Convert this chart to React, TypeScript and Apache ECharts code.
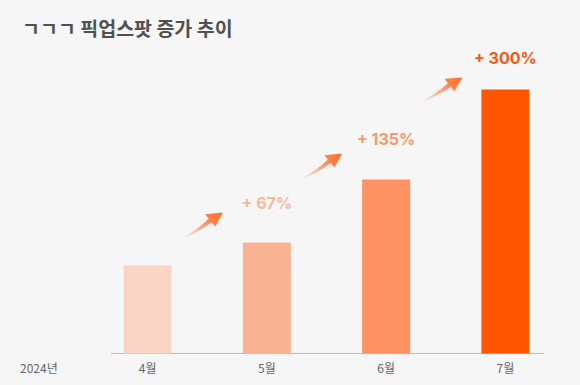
import React, { useEffect, useRef } from "react";
import * as echarts from "echarts";

const title = "ㄱㄱㄱ 픽업스팟 증가 추이";
const yearLabel = "2024년";
const categories = ["4월", "5월", "6월", "7월"];
const values = [88, 111, 174, 264];
const growthLabels = ["", "+ 67%", "+ 135%", "+ 300%"];

const barColors = ["#FAD5C5", "#F9B393", "#FE9263", "#FF5500"];
const labelColors = ["#F7B99A", "#F7B99A", "#F5996B", "#EF5B16"];
const labelDistances = [0, 30, 31, 22];
const arrowDx = [-44, -44, -43];
const arrowDy = [-30, -26, -12];
const arrowAngles = [32, 31.5, 30];

function arrowPoints(tx: number, ty: number, angleDeg: number) {
  const a = (angleDeg * Math.PI) / 180;
  const ux = Math.cos(a), uy = -Math.sin(a);
  const nx = Math.sin(a), ny = Math.cos(a);
  const headLen = 15, headHalf = 8, bodyLen = 50;
  const B = [tx - headLen * ux, ty - headLen * uy];
  const P0 = [tx - bodyLen * ux, ty - bodyLen * uy];
  const C = [(P0[0] + B[0]) / 2 + 2.5 * nx, (P0[1] + B[1]) / 2 + 2.5 * ny];
  const N = 14;
  const left: number[][] = [];
  const right: number[][] = [];
  let mEnd = [nx, ny];
  for (let i = 0; i <= N; i++) {
    const t = i / N;
    const qx = (1 - t) * (1 - t) * P0[0] + 2 * t * (1 - t) * C[0] + t * t * B[0];
    const qy = (1 - t) * (1 - t) * P0[1] + 2 * t * (1 - t) * C[1] + t * t * B[1];
    let dx = 2 * (1 - t) * (C[0] - P0[0]) + 2 * t * (B[0] - C[0]);
    let dy = 2 * (1 - t) * (C[1] - P0[1]) + 2 * t * (B[1] - C[1]);
    const l = Math.hypot(dx, dy) || 1;
    dx /= l; dy /= l;
    const mx = -dy, my = dx;
    const w = 0.4 + 1.9 * t;
    left.push([qx + w * mx, qy + w * my]);
    right.push([qx - w * mx, qy - w * my]);
    if (i === N) mEnd = [mx, my];
  }
  const pts = [
    ...left,
    [B[0] + headHalf * mEnd[0], B[1] + headHalf * mEnd[1]],
    [tx, ty],
    [B[0] - headHalf * mEnd[0], B[1] - headHalf * mEnd[1]],
    ...right.reverse(),
  ];
  return { pts, P0, T: [tx, ty] };
}

export default function App() {
  const ref = useRef<HTMLDivElement>(null);
  useEffect(() => {
    document.body.style.margin = "0";
    const chart = echarts.init(ref.current!, null, { renderer: "svg" });
    chart.setOption({
      animation: false,
      backgroundColor: "#F6F6F6",
      grid: { left: 88, right: 15, top: 53.5, bottom: 31.5 },
      xAxis: {
        type: "category",
        data: categories,
        axisLine: { show: false },
        axisTick: { show: false },
        axisLabel: {
          color: "#666666",
          fontSize: 12,
          margin: 8,
          fontFamily: "Noto Sans CJK KR",
        },
      },
      yAxis: {
        type: "value",
        min: 0,
        max: 300,
        show: false,
        splitLine: { show: false },
      },
      series: [
        {
          type: "bar",
          barWidth: 48,
          data: values.map((v, i) => ({
            value: v,
            itemStyle: { color: barColors[i] },
            label: {
              show: growthLabels[i] !== "",
              position: "top",
              distance: labelDistances[i],
              formatter: growthLabels[i],
              color: labelColors[i],
              fontSize: 16,
              fontWeight: 700,
              lineHeight: 20,
              fontFamily: "Inter, 'Noto Sans', sans-serif",
            },
          })),
        },
      ],
    });

    const graphics: any[] = [
      {
        type: "text",
        style: {
          text: title,
          x: 22,
          y: 27.5,
          verticalAlign: "middle",
          fill: "#505050",
          font: "bold 19.5px 'Noto Sans CJK KR'",
        },
      },
      {
        type: "text",
        style: {
          text: yearLabel,
          x: 20,
          y: 367,
          verticalAlign: "middle",
          fill: "#666666",
          font: "12px 'Noto Sans CJK KR'",
        },
      },
      {
        type: "line",
        shape: { x1: 111, y1: 353.5, x2: 544, y2: 353.5 },
        style: { stroke: "#BDBDBD", lineWidth: 1 },
      },
    ];

    for (let i = 0; i < 3; i++) {
      const p = chart.convertToPixel({ seriesIndex: 0 }, [i + 1, values[i + 1]]) as number[];
      const tx = p[0] + arrowDx[i];
      const ty = p[1] + arrowDy[i];
      const { pts, P0, T } = arrowPoints(tx, ty, arrowAngles[i]);
      graphics.push({
        type: "polygon",
        shape: { points: pts },
        style: {
          fill: {
            type: "linear",
            x: P0[0],
            y: P0[1],
            x2: T[0],
            y2: T[1],
            global: true,
            colorStops: [
              { offset: 0, color: "rgba(250,170,130,0)" },
              { offset: 0.5, color: "rgba(250,140,95,0.75)" },
              { offset: 0.72, color: "#FF8148" },
              { offset: 1, color: "#FF6A28" },
            ],
          },
        },
      });
    }

    chart.setOption({ graphic: graphics });
    return () => chart.dispose();
  }, []);
  return <div ref={ref} style={{ width: 580, height: 385 }} />;
}
